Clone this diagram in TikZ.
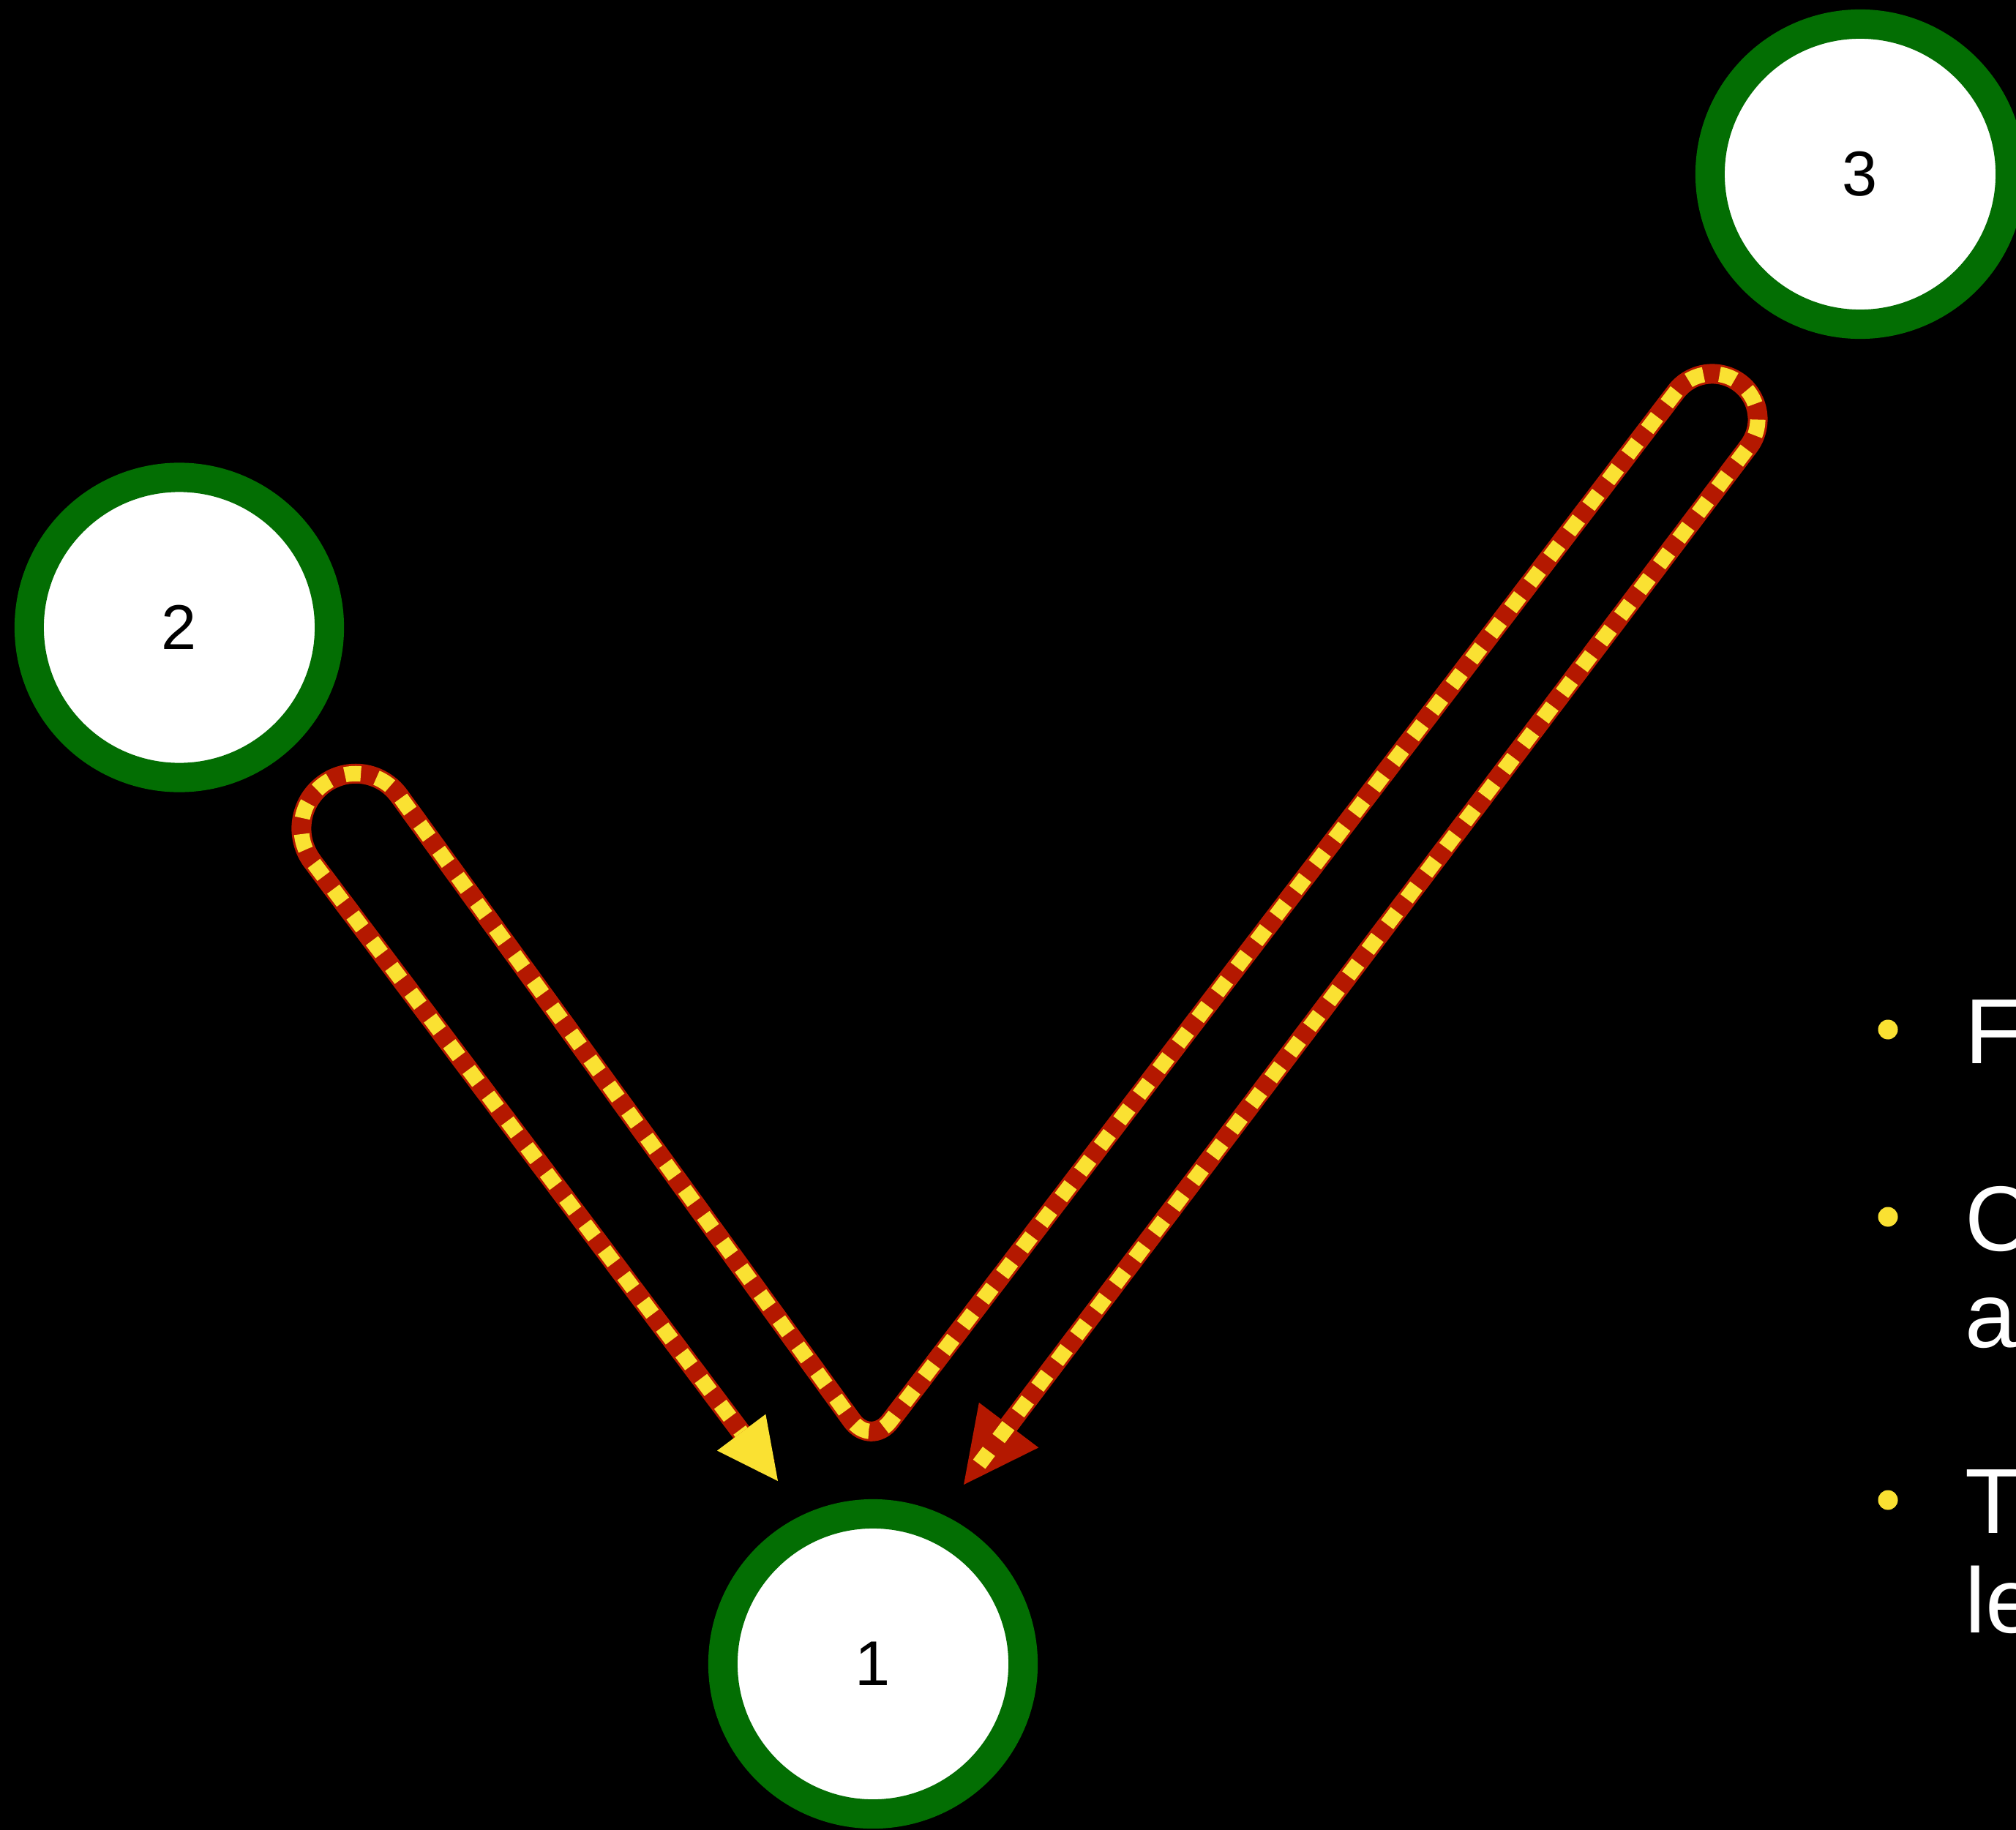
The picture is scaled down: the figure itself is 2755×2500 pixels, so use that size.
\documentclass[tikz,border=0pt]{standalone}
\usepackage{fontspec}
\setmainfont{Liberation Sans}
\usetikzlibrary{arrows.meta,calc}
\definecolor{ngreen}{RGB}{3,110,3}
\definecolor{lred}{RGB}{180,24,0}
\definecolor{lyellow}{RGB}{250,225,50}
\begin{document}
\begin{tikzpicture}[x=0.01cm,y=-0.01cm,
  state/.style={circle,draw=ngreen,line width=4mm,fill=white,minimum size=41mm,inner sep=0pt,
    font=\fontsize{24.6}{29}\selectfont,text=black},
  rline/.style={draw=lred,line width=2.7mm,line cap=butt,line join=round},
  yline/.style={draw=lyellow,line width=2.1mm,dash pattern=on 2.2mm off 2.2mm,line cap=butt,line join=round},
  item/.style={anchor=base west,inner sep=0pt,text=white,font=\fontsize{35.9}{43}\selectfont},
  bulletdot/.style={fill=lyellow}]
\useasboundingbox (0,0) rectangle (2755,2500);
\fill[black] (-20,-20) rectangle (2775,2520);
\clip (0,0) rectangle (2755,2500);

% nodes
\node[state] (n1) at (1193,2274) {1};
\node[state] (n2) at (245,857.5) {2};
\node[state] (n3) at (2542,238) {3};

% connector points
\coordinate (rtip) at (1317,2029);
\coordinate (k2) at (2426.9,560.9);
\coordinate (k1) at (2327.9,486.1);
\coordinate (v) at (1190,1977);
\coordinate (q1) at (501.6,1027);
\coordinate (q2) at (381.9,1117.4);
\coordinate (ytip) at (1063,2024);

\draw[rline,{Triangle[length=10.2mm,width=10.2mm,line width=0pt]}-,shorten >=2.5mm]
  (rtip) [rounded corners=6.2mm] -- (k2) -- (k1) -- ($(k1)!0.5!(v)$)
  [rounded corners=4.4mm] -- (v) -- ($(v)!0.5!(q1)$)
  [rounded corners=7.5mm] -- (q1) -- (q2) -- (ytip);
\draw[yline,-{Triangle[length=8.3mm,width=8.3mm,line width=0pt]},shorten <=3.5mm]
  (rtip) [rounded corners=6.2mm] -- (k2) -- (k1) -- ($(k1)!0.5!(v)$)
  [rounded corners=4.4mm] -- (v) -- ($(v)!0.5!(q1)$)
  [rounded corners=7.5mm] -- (q1) -- (q2) -- (ytip);

% bullet list (cut at the right edge, as in the reference)
\fill[bulletdot] (2580,1407) circle (1.35mm);
\fill[bulletdot] (2580,1663) circle (1.35mm);
\fill[bulletdot] (2580,2050) circle (1.35mm);
\node[item] (t1) at (2685,1453) {F};
\node[item] (t2a) at (2685,1709) {C};
\node[item] (t2b) at (2685,1841) {a};
\node[item] (t3a) at (2685,2095) {T};
\node[item] (t3b) at (2685,2231) {le};
\end{tikzpicture}
\end{document}
